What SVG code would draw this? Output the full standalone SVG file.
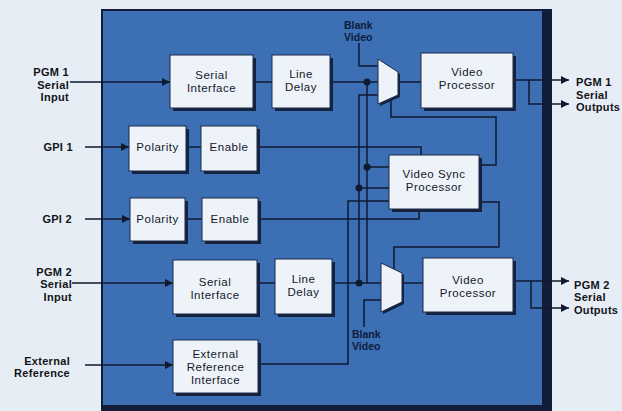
<svg xmlns="http://www.w3.org/2000/svg" width="622" height="411" viewBox="0 0 622 411">
<defs>
<marker id="arr" viewBox="0 0 10 10" refX="10" refY="5" markerWidth="8" markerHeight="8" markerUnits="userSpaceOnUse" orient="auto">
<path d="M0,0 L10,5 L0,10 z" fill="#0f1a30"/>
</marker>
<style>
.lbl{font-family:"Liberation Sans",Arial,sans-serif;font-weight:bold;font-size:11px;letter-spacing:0.3px;fill:#111418}
.blank{font-family:"Liberation Sans",Arial,sans-serif;font-weight:bold;font-size:10.5px;fill:#0e1c3a}
.nt{font-family:"Liberation Sans",Arial,sans-serif;font-size:11.5px;letter-spacing:0.5px;fill:#14182a;text-anchor:middle}
.box{fill:#eef3f9;stroke:#1b2a48;stroke-width:1}
.sh{fill:#14223f}
.w{fill:none;stroke:#0f1a30;stroke-width:1.5}
.dot{fill:#0f1a30}
</style>
</defs>
<rect x="0" y="0" width="622" height="411" fill="#e7edf5"/>
<rect x="101" y="9" width="451" height="402" fill="#121c38"/>
<rect x="103" y="11" width="439" height="394" fill="#3c6fb4"/>

<g id="connectors">
<line class="w" x1="70" y1="82" x2="170" y2="82" marker-end="url(#arr)"/>
<line class="w" x1="85" y1="147" x2="129" y2="147" marker-end="url(#arr)"/>
<line class="w" x1="85" y1="219" x2="130" y2="219" marker-end="url(#arr)"/>
<line class="w" x1="72" y1="283" x2="173" y2="283" marker-end="url(#arr)"/>
<line class="w" x1="85" y1="365" x2="173" y2="365" marker-end="url(#arr)"/>
<line class="w" x1="253" y1="82" x2="272" y2="82"/>
<line class="w" x1="186" y1="147" x2="201" y2="147"/>
<line class="w" x1="185" y1="219" x2="202" y2="219"/>
<line class="w" x1="257" y1="283" x2="275" y2="283"/>
<line class="w" x1="330" y1="82" x2="378" y2="82"/>
<line class="w" x1="398" y1="82" x2="421" y2="82"/>
<line class="w" x1="332" y1="283" x2="381" y2="283"/>
<line class="w" x1="402" y1="283" x2="423" y2="283"/>
<polyline class="w" points="513,80 569,80" marker-end="url(#arr)"/>
<polyline class="w" points="529,80 529,104 569,104" marker-end="url(#arr)"/>
<polyline class="w" points="513,281 569,281" marker-end="url(#arr)"/>
<polyline class="w" points="531,281 531,308 569,308" marker-end="url(#arr)"/>
<polyline class="w" points="359,43 359,66 378,66"/>
<polyline class="w" points="381,300 364,300 364,327"/>
<polyline class="w" points="378,95 359,95 359,283"/>
<polyline class="w" points="367,82 367,283"/>
<line class="w" x1="367" y1="167" x2="389" y2="167"/>
<line class="w" x1="359" y1="188" x2="389" y2="188"/>
<polyline class="w" points="257,147 421,147 421,155"/>
<polyline class="w" points="258,219 419,219 419,209"/>
<polyline class="w" points="258,364 348,364 348,201 389,201"/>
<polyline class="w" points="391,99 391,117 496,117 496,165 479,165"/>
<polyline class="w" points="394,269 394,247 499,247 499,202 479,202"/>
<circle class="dot" cx="367" cy="82" r="3.5"/>
<circle class="dot" cx="367" cy="167" r="3.5"/>
<circle class="dot" cx="359" cy="188" r="3.5"/>
<circle class="dot" cx="359" cy="283" r="3.5"/>
</g>

<g id="si1"><rect class="sh" x="173" y="58" width="83" height="53"/><rect class="box" x="170" y="55" width="83" height="53"/><text class="nt" x="211.5" y="79">Serial</text><text class="nt" x="211.5" y="92">Interface</text></g>
<g id="ld1"><rect class="sh" x="275" y="58" width="58" height="53"/><rect class="box" x="272" y="55" width="58" height="53"/><text class="nt" x="301" y="78">Line</text><text class="nt" x="301" y="91">Delay</text></g>
<g id="mux1"><polygon fill="#14223f" points="380,61 400,74 400,97 380,106"/><polygon class="box" points="378,59 398,72 398,95 378,104"/></g>
<g id="vp1"><rect class="sh" x="424" y="56" width="92" height="55"/><rect class="box" x="421" y="53" width="92" height="55"/><text class="nt" x="467" y="76">Video</text><text class="nt" x="467" y="89">Processor</text></g>
<g id="pol1"><rect class="sh" x="132" y="129" width="57" height="45"/><rect class="box" x="129" y="126" width="57" height="45"/><text class="nt" x="157.5" y="151">Polarity</text></g>
<g id="en1"><rect class="sh" x="204" y="129" width="56" height="45"/><rect class="box" x="201" y="126" width="56" height="45"/><text class="nt" x="229" y="151">Enable</text></g>
<g id="vsp"><rect class="sh" x="392" y="158" width="90" height="54"/><rect class="box" x="389" y="155" width="90" height="54"/><text class="nt" x="434" y="178">Video Sync</text><text class="nt" x="434" y="191">Processor</text></g>
<g id="pol2"><rect class="sh" x="133" y="201" width="55" height="43"/><rect class="box" x="130" y="198" width="55" height="43"/><text class="nt" x="157.5" y="223">Polarity</text></g>
<g id="en2"><rect class="sh" x="205" y="201" width="56" height="43"/><rect class="box" x="202" y="198" width="56" height="43"/><text class="nt" x="230" y="223">Enable</text></g>
<g id="si2"><rect class="sh" x="176" y="263" width="84" height="54"/><rect class="box" x="173" y="260" width="84" height="54"/><text class="nt" x="215" y="286">Serial</text><text class="nt" x="215" y="299">Interface</text></g>
<g id="ld2"><rect class="sh" x="278" y="262" width="57" height="55"/><rect class="box" x="275" y="259" width="57" height="55"/><text class="nt" x="303.5" y="283">Line</text><text class="nt" x="303.5" y="296">Delay</text></g>
<g id="mux2"><polygon fill="#14223f" points="383,265 404,275 404,304 383,314"/><polygon class="box" points="381,263 402,273 402,302 381,312"/></g>
<g id="vp2"><rect class="sh" x="426" y="261" width="90" height="54"/><rect class="box" x="423" y="258" width="90" height="54"/><text class="nt" x="468" y="284">Video</text><text class="nt" x="468" y="297">Processor</text></g>
<g id="eri"><rect class="sh" x="176" y="343" width="85" height="53"/><rect class="box" x="173" y="340" width="85" height="53"/><text class="nt" x="215.5" y="358">External</text><text class="nt" x="215.5" y="371">Reference</text><text class="nt" x="215.5" y="384">Interface</text></g>

<g id="labels">
<text class="lbl" text-anchor="end" x="69" y="76">PGM 1</text>
<text class="lbl" text-anchor="end" x="69" y="88.5">Serial</text>
<text class="lbl" text-anchor="end" x="69" y="101">Input</text>
<text class="lbl" text-anchor="end" x="73" y="151">GPI 1</text>
<text class="lbl" text-anchor="end" x="72" y="223">GPI 2</text>
<text class="lbl" text-anchor="end" x="72" y="275.5">PGM 2</text>
<text class="lbl" text-anchor="end" x="72" y="288">Serial</text>
<text class="lbl" text-anchor="end" x="72" y="300.5">Input</text>
<text class="lbl" text-anchor="end" x="70" y="364.5">External</text>
<text class="lbl" text-anchor="end" x="70" y="377">Reference</text>
<text class="lbl" x="576" y="86">PGM 1</text>
<text class="lbl" x="576" y="98.5">Serial</text>
<text class="lbl" x="576" y="111">Outputs</text>
<text class="lbl" x="574" y="288.5">PGM 2</text>
<text class="lbl" x="574" y="301">Serial</text>
<text class="lbl" x="574" y="313.5">Outputs</text>
<text class="blank" x="344" y="28.5">Blank</text>
<text class="blank" x="344" y="40.5">Video</text>
<text class="blank" x="352" y="337.5">Blank</text>
<text class="blank" x="352" y="349.5">Video</text>
</g>
</svg>
